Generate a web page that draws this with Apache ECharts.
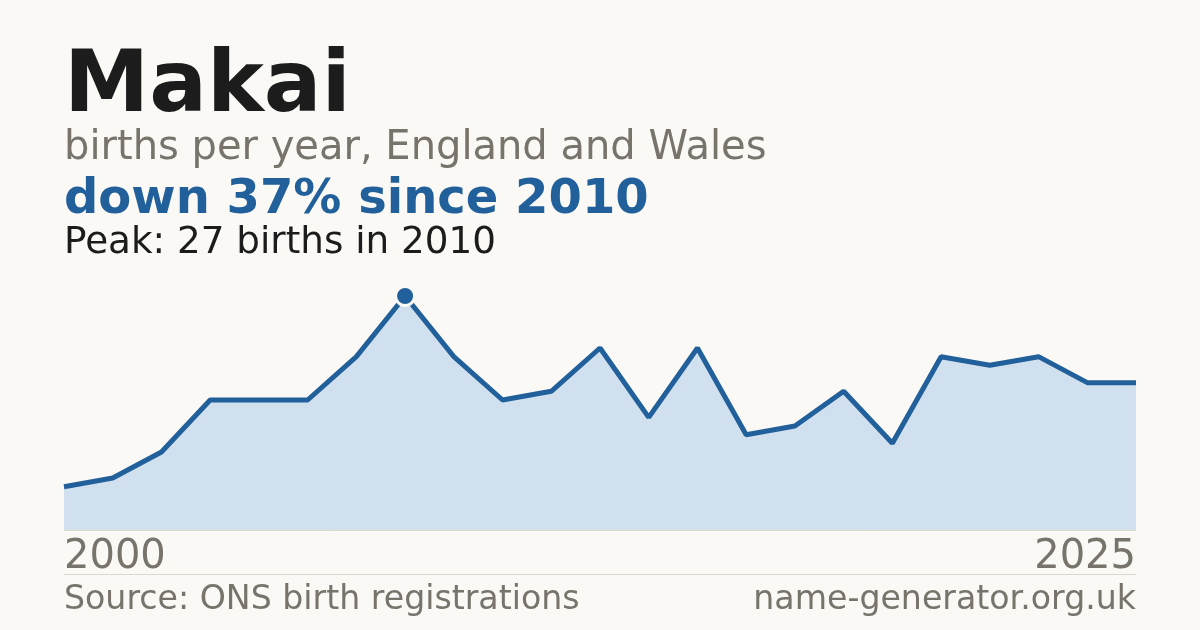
<!DOCTYPE html>
<html>
<head>
<meta charset="utf-8">
<script src="https://cdn.jsdelivr.net/npm/echarts@6/dist/echarts.min.js"></script>
<style>
  html, body { margin: 0; padding: 0; background: #faf9f5; }
  #chart { width: 1200px; height: 630px; }
</style>
</head>
<body>
<div id="chart"></div>
<script>
const years = ['2003','2004','2005','2006','2007','2008','2009','2010','2011','2012','2013','2014','2015','2016','2017','2018','2019','2020','2021','2022','2023','2024','2025'];
const births = [5, 6, 9, 15, 15, 15, 20, 27, 20, 15, 16, 21, 13, 21, 11, 12, 16, 10, 20, 19, 20, 17, 17];
const tickLabels = ['2000', '2025'];

const FONT = '"DejaVu Sans", sans-serif';
const BLUE = '#21609a';
const GREY = '#78746c';

const chart = echarts.init(document.getElementById('chart'));
chart.setOption({
  backgroundColor: '#faf9f5',
  animation: false,
  grid: { left: 64, right: 64, top: 296, bottom: 100 },
  xAxis: {
    type: 'category',
    data: years,
    boundaryGap: false,
    axisLine: { show: true, lineStyle: { color: '#dcd8d0', width: 1 } },
    axisTick: { show: false },
    splitLine: { show: false },
    axisLabel: {
      interval: 0,
      margin: 8,
      fontFamily: FONT,
      fontSize: 40,
      lineHeight: 40,
      color: GREY,
      alignMinLabel: 'left',
      alignMaxLabel: 'right',
      formatter: function (v, i) {
        if (i === 0) return tickLabels[0];
        if (i === years.length - 1) return tickLabels[1];
        return '';
      }
    }
  },
  yAxis: {
    type: 'value', min: 0, max: 27, show: false,
    splitLine: { show: false }
  },
  series: [{
    type: 'line',
    data: births,
    symbol: 'none',
    lineStyle: { color: BLUE, width: 5 },
    areaStyle: { color: '#d0e0ef', opacity: 1 },
    z: 2,
    markPoint: {
      symbol: 'circle',
      symbolSize: 19,
      itemStyle: { color: BLUE, borderColor: '#faf9f5', borderWidth: 3 },
      label: { show: false },
      data: [{ type: 'max' }]
    }
  }],
  graphic: [
    { type: 'text', x: 64, y: 88.8, style: { text: 'Makai', font: 'bold 85.6px ' + FONT, fill: '#1c1c1c', verticalAlign: 'middle' } },
    { type: 'text', x: 64, y: 149, style: { text: 'births per year, England and Wales', font: '40px ' + FONT, fill: GREY, verticalAlign: 'middle' } },
    { type: 'text', x: 64, y: 200.1, style: { text: 'down 37% since 2010', font: 'bold 48px ' + FONT, fill: BLUE, verticalAlign: 'middle' } },
    { type: 'text', x: 64, y: 243.2, style: { text: 'Peak: 27 births in 2010', font: '37.3px ' + FONT, fill: '#1c1c1c', verticalAlign: 'middle' } },
    { type: 'line', shape: { x1: 64, y1: 574.5, x2: 1136, y2: 574.5 }, style: { stroke: '#dcd8d0', lineWidth: 1 } },
    { type: 'text', x: 64, y: 600.4, style: { text: 'Source: ONS birth registrations', font: '33.2px ' + FONT, fill: GREY, verticalAlign: 'middle' } },
    { type: 'text', x: 1136, y: 600.4, style: { text: 'name-generator.org.uk', font: '33.2px ' + FONT, fill: GREY, verticalAlign: 'middle', align: 'right' } }
  ]
});
</script>
</body>
</html>
